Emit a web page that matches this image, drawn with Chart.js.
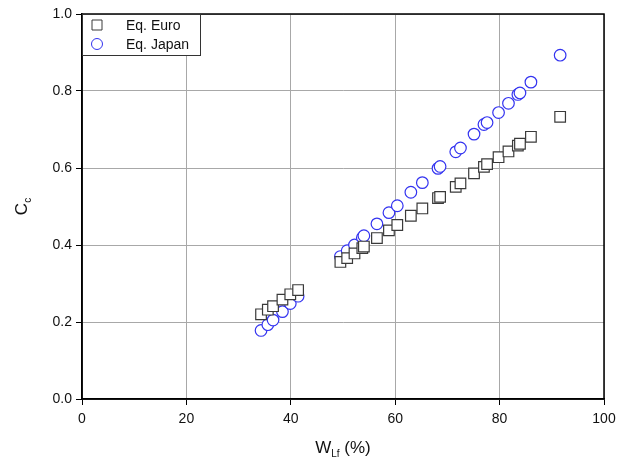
<!DOCTYPE html>
<html>
<head>
<meta charset="utf-8">
<script src="https://cdn.jsdelivr.net/npm/chart.js@4/dist/chart.umd.min.js"></script>
<style>
  html, body { margin: 0; padding: 0; background: #fff; }
  #wrap { width: 628px; height: 466px; }
</style>
</head>
<body>
<div id="wrap"><canvas id="grafico" width="628" height="466"></canvas></div>
<script>
// W_Lf (%) of each sample
const wLf = [34.3, 35.6, 36.6, 38.4, 39.9, 41.4, 49.5, 50.8, 52.2, 53.7, 54.0, 56.5, 58.8, 60.4,
  63.0, 65.2, 68.2, 68.6, 71.6, 72.5, 75.1, 77.0, 77.6, 79.8, 81.7, 83.5, 83.9, 86.0, 91.6];
const ccEuro = [0.220, 0.232, 0.241, 0.258, 0.272, 0.283, 0.356, 0.366, 0.378, 0.392, 0.396, 0.418, 0.438, 0.452,
  0.476, 0.495, 0.522, 0.525, 0.551, 0.560, 0.586, 0.603, 0.610, 0.628, 0.643, 0.658, 0.663, 0.681, 0.733];
const ccJapan = [0.178, 0.193, 0.205, 0.227, 0.248, 0.267, 0.370, 0.385, 0.400, 0.419, 0.424, 0.455, 0.484, 0.502,
  0.537, 0.562, 0.599, 0.604, 0.642, 0.652, 0.688, 0.713, 0.718, 0.744, 0.768, 0.791, 0.795, 0.823, 0.893];
const seriesNames = ['Eq. Euro', 'Eq. Japan'];
const xTitle = { main: 'W', sub: 'Lf', rest: ' (%)' };
const yTitle = { main: 'C', sub: 'c' };

const FONT = 'Arial, "Liberation Sans", sans-serif';

function pares(xs, ys) {
  return xs.map((x, i) => ({ x: x, y: ys[i] }));
}

// frame, legend box and axis titles
const extras = {
  id: 'extras',
  afterDraw(chart) {
    const ctx = chart.ctx;
    const a = chart.chartArea;
    ctx.save();
    ctx.strokeStyle = '#000';
    ctx.lineWidth = 1.5;
    ctx.strokeRect(a.left, a.top, a.right - a.left, a.bottom - a.top);

    // legend
    const lx = a.left, ly = a.top;
    ctx.fillStyle = '#fff';
    ctx.fillRect(lx, ly, 118, 41);
    ctx.strokeStyle = '#333';
    ctx.lineWidth = 1;
    ctx.strokeRect(lx + 0.5, ly + 0.5, 118, 41);
    chart.data.datasets.forEach((ds, i) => {
      const cy = ly + 11 + i * 19;
      ctx.lineWidth = 1;
      ctx.strokeStyle = ds.borderColor;
      ctx.fillStyle = '#fff';
      ctx.beginPath();
      if (ds.pointStyle === 'rect') {
        ctx.rect(lx + 10, cy - 5, 10, 10);
      } else {
        ctx.arc(lx + 15, cy, 5.5, 0, Math.PI * 2);
      }
      ctx.fill();
      ctx.stroke();
      ctx.fillStyle = '#111';
      ctx.font = '14px ' + FONT;
      ctx.textBaseline = 'middle';
      ctx.textAlign = 'left';
      ctx.fillText(ds.label, lx + 44, cy + 1);
    });

    // x title
    ctx.fillStyle = '#111';
    ctx.textBaseline = 'alphabetic';
    ctx.font = '17px ' + FONT;
    const wMain = ctx.measureText(xTitle.main).width;
    ctx.font = '10px ' + FONT;
    const wSub = ctx.measureText(xTitle.sub).width;
    ctx.font = '17px ' + FONT;
    const wRest = ctx.measureText(xTitle.rest).width;
    let x0 = (a.left + a.right) / 2 - (wMain + wSub + wRest) / 2;
    const by = 453;
    ctx.fillText(xTitle.main, x0, by);
    ctx.font = '10px ' + FONT;
    ctx.fillText(xTitle.sub, x0 + wMain, by + 4);
    ctx.font = '17px ' + FONT;
    ctx.fillText(xTitle.rest, x0 + wMain + wSub, by);

    // y title
    ctx.translate(27, (a.top + a.bottom) / 2);
    ctx.rotate(-Math.PI / 2);
    ctx.font = '17px ' + FONT;
    const cMain = ctx.measureText(yTitle.main).width;
    ctx.font = '10px ' + FONT;
    const cSub = ctx.measureText(yTitle.sub).width;
    const y0 = -(cMain + cSub) / 2;
    ctx.font = '17px ' + FONT;
    ctx.fillText(yTitle.main, y0, 0);
    ctx.font = '10px ' + FONT;
    ctx.fillText(yTitle.sub, y0 + cMain, 4);
    ctx.restore();
  }
};

let grafico;
function inicializarGrafico() {
  const ctx = document.getElementById('grafico').getContext('2d');
  grafico = new Chart(ctx, {
    type: 'scatter',
    data: {
      datasets: [{
        label: seriesNames[0],
        data: pares(wLf, ccEuro),
        pointStyle: 'rect',
        pointRadius: 7.5,
        pointBorderWidth: 1.2,
        borderColor: '#3a3a3a',
        backgroundColor: '#fff'
      }, {
        label: seriesNames[1],
        data: pares(wLf, ccJapan),
        pointStyle: 'circle',
        pointRadius: 5.8,
        pointBorderWidth: 1.2,
        borderColor: '#3333f0',
        backgroundColor: '#fff'
      }]
    },
    options: {
      responsive: false,
      animation: false,
      layout: { padding: { left: 0, top: 14, right: 24, bottom: 0 } },
      plugins: { legend: { display: false }, tooltip: { enabled: false } },
      scales: {
        x: {
          type: 'linear',
          min: 0, max: 100,
          afterFit(scale) { scale.height = 67; },
          ticks: { stepSize: 20, color: '#111', padding: 6, font: { size: 14, family: FONT } },
          grid: { color: '#a8a8a8', lineWidth: 1, tickLength: 6, tickColor: '#000' },
          border: { color: '#000', width: 1.5 }
        },
        y: {
          min: 0, max: 1,
          afterFit(scale) { scale.width = 82; },
          ticks: {
            stepSize: 0.2, color: '#111', padding: 4, font: { size: 14, family: FONT },
            callback: v => v.toFixed(1)
          },
          grid: { color: '#a8a8a8', lineWidth: 1, tickLength: 6, tickColor: '#000' },
          border: { color: '#000', width: 1.5 }
        }
      }
    },
    plugins: [extras]
  });
}

window.onload = () => {
  inicializarGrafico();
};
</script>
</body>
</html>
